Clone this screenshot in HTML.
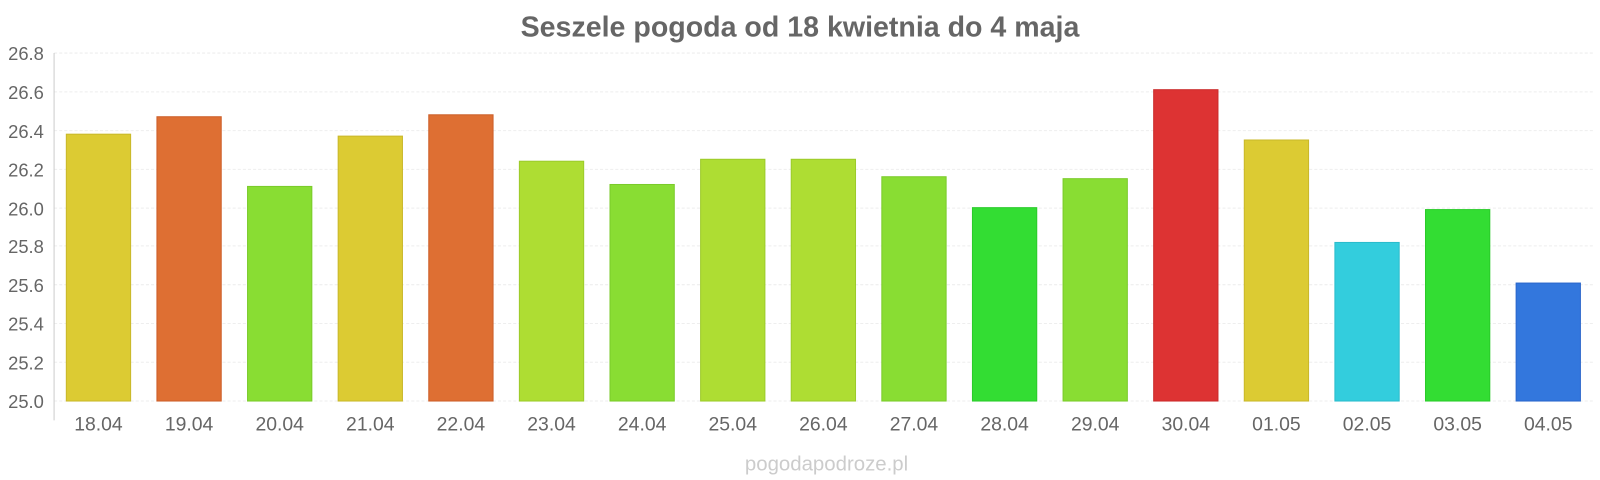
<!DOCTYPE html>
<html><head><meta charset="utf-8"><style>
html,body{margin:0;padding:0;background:#fff;overflow:hidden;width:1600px;height:480px;}
svg{display:block;}
svg text{font-family:"Liberation Sans",sans-serif;fill:#666;}
</style></head><body>
<svg width="1600" height="480" viewBox="0 0 1568 470.4" preserveAspectRatio="none" xmlns="http://www.w3.org/2000/svg">
<text x="784" y="36" font-size="28" font-weight="bold" text-anchor="middle">Seszele pogoda od 18 kwietnia do 4 maja</text>
<g stroke="#eee" stroke-width="1" stroke-dasharray="3,2">
<line x1="53" x2="1562" y1="52" y2="52"/>
<line x1="53" x2="1562" y1="90" y2="90"/>
<line x1="53" x2="1562" y1="128" y2="128"/>
<line x1="53" x2="1562" y1="166" y2="166"/>
<line x1="53" x2="1562" y1="204" y2="204"/>
<line x1="53" x2="1562" y1="241" y2="241"/>
<line x1="53" x2="1562" y1="279" y2="279"/>
<line x1="53" x2="1562" y1="317" y2="317"/>
<line x1="53" x2="1562" y1="355" y2="355"/>
<line x1="53" x2="1562" y1="393" y2="393"/>
</g>
<line x1="53" x2="53" y1="52" y2="412" stroke="#ccc"/>
<g font-size="18" text-anchor="end">
<text x="43" y="59">26.8</text>
<text x="43" y="97">26.6</text>
<text x="43" y="135">26.4</text>
<text x="43" y="173">26.2</text>
<text x="43" y="211">26.0</text>
<text x="43" y="248">25.8</text>
<text x="43" y="286">25.6</text>
<text x="43" y="324">25.4</text>
<text x="43" y="362">25.2</text>
<text x="43" y="400">25.0</text>
</g>
<g stroke-width="1">
<rect x="65" y="131.5" width="63" height="261.5" fill="#dccb33" stroke="#c9b82a"/>
<rect x="153.8" y="114.4" width="63" height="278.6" fill="#de6f33" stroke="#cc5e28"/>
<rect x="242.6" y="182.7" width="63" height="210.3" fill="#89dd33" stroke="#7acb2a"/>
<rect x="331.4" y="133.4" width="63" height="259.6" fill="#dccb33" stroke="#c9b82a"/>
<rect x="420.2" y="112.5" width="63" height="280.5" fill="#de6f33" stroke="#cc5e28"/>
<rect x="509" y="158" width="63" height="235" fill="#aedd33" stroke="#9ccb2a"/>
<rect x="597.8" y="180.8" width="63" height="212.2" fill="#89dd33" stroke="#7acb2a"/>
<rect x="686.6" y="156.1" width="63" height="236.9" fill="#aedd33" stroke="#9ccb2a"/>
<rect x="775.4" y="156.1" width="63" height="236.9" fill="#aedd33" stroke="#9ccb2a"/>
<rect x="864.2" y="173.2" width="63" height="219.8" fill="#89dd33" stroke="#7acb2a"/>
<rect x="953" y="203.5" width="63" height="189.5" fill="#33dd33" stroke="#2acb2a"/>
<rect x="1041.8" y="175.1" width="63" height="217.9" fill="#89dd33" stroke="#7acb2a"/>
<rect x="1130.6" y="87.9" width="63" height="305.1" fill="#dd3333" stroke="#cb2a2a"/>
<rect x="1219.4" y="137.2" width="63" height="255.8" fill="#dccb33" stroke="#c9b82a"/>
<rect x="1308.2" y="237.6" width="63" height="155.4" fill="#33cddd" stroke="#2abbcb"/>
<rect x="1397" y="205.4" width="63" height="187.6" fill="#33dd33" stroke="#2acb2a"/>
<rect x="1485.8" y="277.4" width="63" height="115.6" fill="#3377dd" stroke="#2a66cb"/>
</g>
<g font-size="19" text-anchor="middle">
<text x="96.5" y="422">18.04</text>
<text x="185.3" y="422">19.04</text>
<text x="274.1" y="422">20.04</text>
<text x="362.9" y="422">21.04</text>
<text x="451.7" y="422">22.04</text>
<text x="540.5" y="422">23.04</text>
<text x="629.3" y="422">24.04</text>
<text x="718.1" y="422">25.04</text>
<text x="806.9" y="422">26.04</text>
<text x="895.7" y="422">27.04</text>
<text x="984.5" y="422">28.04</text>
<text x="1073.3" y="422">29.04</text>
<text x="1162.1" y="422">30.04</text>
<text x="1250.9" y="422">01.05</text>
<text x="1339.7" y="422">02.05</text>
<text x="1428.5" y="422">03.05</text>
<text x="1517.3" y="422">04.05</text>
</g>
<text x="810" y="461" font-size="20" text-anchor="middle" style="fill:#ccc">pogodapodroze.pl</text>
</svg>
</body></html>
